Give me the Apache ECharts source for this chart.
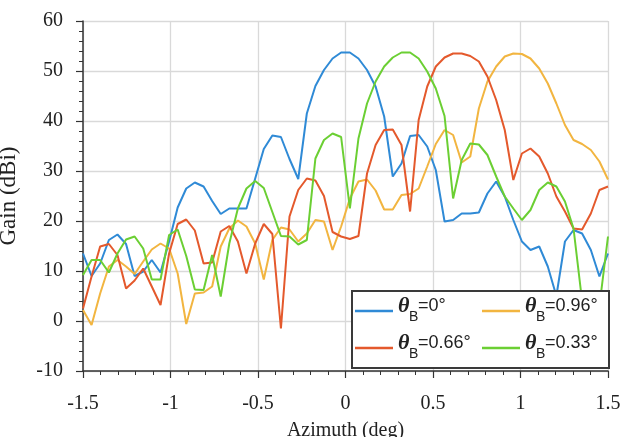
<!DOCTYPE html>
<html>
<head>
<meta charset="utf-8">
<script src="https://cdn.jsdelivr.net/npm/echarts@6/dist/echarts.min.js"></script>
<style>
html,body{margin:0;padding:0;background:#fff;}
#chart{width:622px;height:437px;}
</style>
</head>
<body>
<div id="chart"></div>
<script>
// Azimuth samples (deg)
var azimuth = [-1.5,-1.451,-1.402,-1.352,-1.303,-1.254,-1.205,-1.156,-1.107,-1.057,
  -1.008,-0.959,-0.910,-0.861,-0.811,-0.762,-0.713,-0.664,-0.615,-0.566,
  -0.516,-0.467,-0.418,-0.369,-0.320,-0.270,-0.221,-0.172,-0.123,-0.074,
  -0.025,0.025,0.074,0.123,0.172,0.221,0.270,0.320,0.369,0.418,
  0.467,0.516,0.566,0.615,0.664,0.713,0.762,0.811,0.861,0.910,
  0.959,1.008,1.057,1.107,1.156,1.205,1.254,1.303,1.352,1.402,
  1.451,1.5];

// Gain (dBi) per beam steering angle
var gain0 = [13.5,9.0,11.5,16.2,17.3,15.4,9.0,9.9,12.2,9.7,
  15.9,22.7,26.5,27.7,26.9,24.0,21.4,22.5,22.5,22.5,
  28.5,34.4,37.1,36.8,32.4,28.4,41.5,47.0,50.2,52.5,
  53.7,53.7,52.5,50.2,46.9,40.9,28.9,31.5,37.0,37.2,
  34.9,30.2,19.9,20.2,21.5,21.5,21.7,25.5,27.9,24.9,
  20.2,15.9,14.2,14.9,10.9,5.0,15.9,18.2,17.5,14.2,
  8.9,13.5];
var gain096 = [2.2,-0.8,5.5,10.9,12.2,10.9,9.4,11.9,14.3,15.5,
  14.5,9.5,-0.6,5.5,5.7,6.9,14.9,18.5,20.1,18.9,
  15.5,8.3,16.2,18.7,18.3,15.9,17.5,20.2,19.9,14.2,
  18.9,24.5,27.9,28.3,26.1,22.3,22.3,25.2,25.4,26.5,
  30.9,35.4,38.2,37.2,31.7,32.9,42.5,47.9,50.9,52.9,
  53.5,53.4,52.5,50.5,47.5,43.5,39.2,36.2,35.4,34.2,
  31.9,28.3];
var gain066 = [2.5,8.9,14.9,15.4,13.2,6.5,8.1,10.5,6.9,3.2,
  13.5,19.4,20.3,18.1,11.5,11.7,17.9,19.0,15.9,9.5,
  15.5,19.4,17.4,-1.5,20.9,26.2,28.5,28.1,25.0,17.8,
  16.9,16.4,17.0,29.5,35.2,38.2,38.3,35.2,21.9,40.2,
  46.9,50.9,52.7,53.5,53.5,53.0,51.9,48.9,44.2,38.2,
  28.2,33.5,34.5,32.9,29.5,24.9,21.9,18.5,18.3,21.5,
  26.2,26.9];
var gain033 = [9.2,12.2,12.2,9.7,13.5,16.3,16.9,14.5,8.3,8.3,
  17.2,18.3,13.0,6.3,6.2,13.2,4.9,15.5,22.5,26.5,
  28.0,26.6,21.8,17.0,16.9,15.3,16.2,32.5,36.2,37.5,
  36.8,22.5,36.5,43.5,47.9,50.9,52.7,53.7,53.7,52.5,
  49.9,46.5,41.0,24.5,32.2,35.5,35.3,33.2,28.9,24.9,
  22.5,20.2,22.2,26.2,27.7,26.9,23.9,18.5,4.0,-8.0,
  3.0,16.9];

var seriesNames = ['0°', '0.96°', '0.66°', '0.33°'];
var seriesValues = [gain0, gain096, gain066, gain033];
var seriesColors = ['#2f8ad6', '#f2b540', '#e4592c', '#6bcf33'];

function pairs(vals) {
  return azimuth.map(function (x, i) { return [x, vals[i]]; });
}

var serifFont = "'Liberation Serif','Times New Roman',serif";
var sansFont = "'Liberation Sans',Arial,sans-serif";

var series = seriesNames.map(function (n, i) {
  return {
    name: n,
    type: 'line',
    data: pairs(seriesValues[i]),
    showSymbol: false,
    symbol: 'none',
    lineStyle: { width: 2, color: seriesColors[i] },
    itemStyle: { color: seriesColors[i] },
    z: 2
  };
});

var chart = echarts.init(document.getElementById('chart'), null, { renderer: 'canvas' });
chart.setOption({
  animation: false,
  backgroundColor: '#fff',
  grid: { left: 83, right: 14, top: 21, bottom: 66, containLabel: false, outerBoundsMode: 'none' },
  xAxis: {
    type: 'value', min: -1.5, max: 1.5, interval: 0.5,
    name: 'Azimuth (deg)', nameLocation: 'middle', nameGap: 50,
    nameTextStyle: { fontFamily: serifFont, fontSize: 20, color: '#222' },
    axisLine: { show: true, onZero: false, lineStyle: { color: '#333', width: 1.5 } },
    axisTick: { show: true, inside: false, length: 7, lineStyle: { color: '#333', width: 1.2 } },
    minorTick: { show: true, splitNumber: 5, length: 4, lineStyle: { color: '#333', width: 1 } },
    axisLabel: { fontFamily: serifFont, fontSize: 20, color: '#222', margin: 23 },
    splitLine: { show: true, lineStyle: { color: '#d9d9d9', width: 1.3 } }
  },
  yAxis: {
    type: 'value', min: -10, max: 60, interval: 10,
    name: 'Gain (dBi)', nameLocation: 'middle', nameGap: 63, nameRotate: 90,
    nameTextStyle: { fontFamily: serifFont, fontSize: 23, color: '#222' },
    axisLine: { show: true, onZero: false, lineStyle: { color: '#333', width: 1.5 } },
    axisTick: { show: true, inside: false, length: 7, lineStyle: { color: '#333', width: 1.2 } },
    minorTick: { show: true, splitNumber: 5, length: 4, lineStyle: { color: '#333', width: 1 } },
    axisLabel: { fontFamily: serifFont, fontSize: 20, color: '#222', margin: 20 },
    splitLine: { show: true, lineStyle: { color: '#d9d9d9', width: 1.3 } }
  },
  legend: {
    show: true,
    orient: 'horizontal',
    left: 352, top: 291,
    width: 252,
    padding: [4, 5, 4, 3],
    itemGap: 5,
    itemWidth: 38, itemHeight: 2.5,
    icon: 'rect',
    backgroundColor: '#fff',
    borderColor: '#3a3a3a', borderWidth: 2, borderRadius: 0,
    data: seriesNames,
    formatter: function (name) { return '{t|θ}{s|B}{n|=' + name + '}'; },
    textStyle: {
      rich: {
        t: { fontFamily: serifFont, fontStyle: 'italic', fontWeight: 'bold', fontSize: 22, color: '#222',
             lineHeight: 15, padding: [0, 0, 10, 0], width: 11 },
        s: { fontFamily: sansFont, fontSize: 14, color: '#222', lineHeight: 12, padding: [12, 0, 0, 0], width: 9 },
        n: { fontFamily: sansFont, fontSize: 18, color: '#222', lineHeight: 15, padding: [0, 0, 10, 0], width: 59 }
      }
    },
    z: 10
  },
  series: series
});
</script>
</body>
</html>
